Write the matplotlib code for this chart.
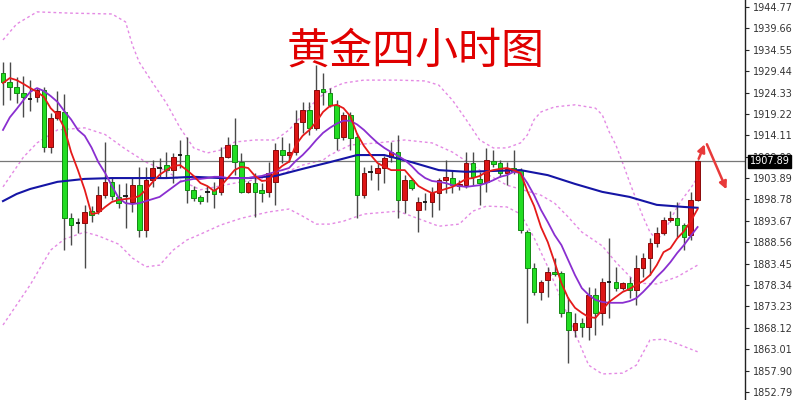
import matplotlib
matplotlib.use("Agg")
from matplotlib import pyplot as plt

plt.rcParams['font.family'] = ['DejaVu Sans']

# 4h gold candles (prices)
opens = [1929.0, 1926.9, 1925.7, 1924.2, 1923.0, 1923.3, 1924.9, 1911.3, 1918.3, 1919.7,
         1894.4, 1893.2, 1893.2, 1896.0, 1896.0, 1899.8, 1902.9, 1899.4, 1899.4, 1898.2,
         1902.2, 1891.6, 1903.4, 1906.3, 1907.0, 1905.8, 1909.2, 1909.4, 1901.0, 1899.4,
         1900.6, 1901.0, 1900.6, 1908.9, 1911.8, 1907.7, 1900.6, 1902.7, 1901.0, 1900.6,
         1902.9, 1910.6, 1909.4, 1910.1, 1917.3, 1920.2, 1915.9, 1925.2, 1924.2, 1921.4,
         1913.7, 1919.0, 1913.7, 1899.8, 1905.3, 1905.1, 1906.3, 1908.9, 1910.1, 1898.7,
         1903.4, 1896.3, 1898.2, 1898.2, 1900.3, 1903.4, 1903.9, 1902.0, 1902.2, 1907.5,
         1903.7, 1902.9, 1908.0, 1907.5, 1905.1, 1906.3, 1905.8, 1891.1, 1882.4, 1876.7,
         1879.5, 1881.4, 1881.2, 1871.9, 1867.6, 1869.3, 1868.3, 1876.0, 1871.7, 1879.1,
         1879.1, 1877.6, 1878.8, 1877.2, 1882.4, 1884.8, 1888.4, 1890.8, 1893.9, 1894.4,
         1892.7, 1890.3, 1898.7]
closes = [1926.9, 1925.7, 1924.2, 1923.3, 1922.8, 1924.9, 1911.3, 1918.3, 1919.9, 1894.4,
          1892.7, 1893.0, 1895.8, 1895.1, 1899.8, 1902.9, 1899.6, 1897.9, 1899.6, 1902.2,
          1891.6, 1903.4, 1906.3, 1906.5, 1905.8, 1908.9, 1909.4, 1901.0, 1899.1, 1898.4,
          1900.5, 1900.1, 1908.9, 1911.8, 1907.7, 1900.6, 1902.7, 1900.6, 1900.3, 1905.1,
          1910.6, 1909.4, 1910.1, 1917.1, 1920.2, 1915.9, 1924.9, 1924.5, 1921.4, 1913.5,
          1919.0, 1913.5, 1899.8, 1905.1, 1905.6, 1906.3, 1908.7, 1910.1, 1898.7, 1903.4,
          1901.5, 1898.2, 1898.4, 1900.3, 1903.4, 1904.2, 1902.2, 1902.5, 1907.5, 1904.2,
          1902.7, 1908.2, 1907.3, 1905.1, 1906.1, 1905.6, 1891.6, 1882.4, 1876.7, 1879.1,
          1881.4, 1881.0, 1871.7, 1867.6, 1869.3, 1868.3, 1876.0, 1871.7, 1879.1, 1879.0,
          1877.6, 1878.8, 1877.2, 1882.4, 1884.8, 1888.4, 1890.8, 1893.9, 1894.4, 1892.7,
          1889.8, 1898.7, 1907.89]
highs = [1931.6, 1931.6, 1928.0, 1928.3, 1927.3, 1925.4, 1925.6, 1919.4, 1924.7, 1924.0,
         1895.6, 1894.4, 1897.5, 1897.2, 1902.0, 1912.5, 1903.9, 1902.5, 1902.7, 1903.9,
         1906.5, 1906.5, 1908.2, 1908.7, 1910.1, 1909.9, 1913.0, 1913.7, 1902.0, 1899.8,
         1902.0, 1902.9, 1911.3, 1913.7, 1918.3, 1909.9, 1903.2, 1905.1, 1902.7, 1907.7,
         1912.3, 1913.7, 1912.3, 1920.2, 1922.1, 1922.1, 1930.9, 1929.0, 1925.4, 1922.5,
         1919.7, 1919.7, 1914.7, 1906.5, 1907.0, 1907.5, 1909.2, 1912.5, 1914.2, 1904.6,
         1903.9, 1899.4, 1900.3, 1901.8, 1903.9, 1908.2, 1905.8, 1903.4, 1910.1, 1910.1,
         1905.3, 1911.1, 1910.6, 1908.2, 1907.7, 1910.6, 1906.3, 1891.6, 1883.6, 1879.5,
         1882.6, 1884.8, 1881.7, 1875.5, 1871.7, 1870.5, 1877.9, 1877.6, 1880.0, 1889.6,
         1882.6, 1879.1, 1880.3, 1885.5, 1886.0, 1889.6, 1892.2, 1894.6, 1896.0, 1898.2,
         1893.2, 1900.5, 1908.2]
lows = [1921.4, 1922.5, 1921.8, 1918.5, 1919.9, 1922.1, 1910.1, 1909.9, 1917.8, 1886.7,
        1887.9, 1890.8, 1882.4, 1893.4, 1895.3, 1899.1, 1898.7, 1896.8, 1891.9, 1895.8,
        1889.8, 1889.8, 1901.8, 1904.2, 1903.9, 1902.7, 1906.3, 1897.9, 1898.4, 1897.7,
        1898.2, 1896.8, 1899.8, 1908.7, 1904.6, 1900.3, 1900.3, 1894.6, 1898.2, 1899.4,
        1897.5, 1907.5, 1907.7, 1909.4, 1914.7, 1914.2, 1915.4, 1921.4, 1920.9, 1910.6,
        1913.0, 1910.6, 1894.4, 1899.1, 1903.4, 1901.0, 1902.7, 1907.7, 1894.4, 1895.6,
        1901.0, 1891.1, 1896.3, 1894.6, 1896.3, 1900.3, 1900.3, 1901.0, 1901.5, 1902.2,
        1897.5, 1900.6, 1906.5, 1904.2, 1902.2, 1904.9, 1890.8, 1869.3, 1876.0, 1874.8,
        1875.5, 1880.5, 1870.7, 1859.7, 1865.9, 1865.9, 1865.2, 1866.4, 1868.8, 1870.5,
        1876.9, 1877.2, 1875.2, 1873.6, 1880.3, 1880.7, 1887.4, 1890.3, 1893.4, 1889.8,
        1886.7, 1889.1, 1898.4]

# fast (red) and middle (purple) moving averages, one value per candle
ma_fast = [1926.6, 1927.8, 1927.3, 1926.4, 1925.4, 1924.5, 1923.3, 1920.6, 1919.0, 1915.9,
           1910.1, 1905.8, 1901.1, 1895.3, 1895.6, 1897.0, 1898.2, 1898.7, 1898.9, 1899.1,
           1899.6, 1901.1, 1903.0, 1904.7, 1905.8, 1906.8, 1907.0, 1905.8, 1904.4, 1902.7,
           1902.0, 1900.8, 1902.0, 1903.9, 1905.8, 1906.6, 1906.3, 1904.4, 1903.2, 1903.4,
           1905.4, 1906.8, 1907.8, 1911.8, 1914.0, 1915.4, 1917.3, 1919.7, 1921.1, 1921.4,
           1920.6, 1918.7, 1914.4, 1911.6, 1909.4, 1907.5, 1906.6, 1905.8, 1905.8, 1905.8,
           1903.9, 1902.0, 1901.1, 1900.3, 1900.8, 1901.3, 1901.8, 1902.7, 1903.7, 1903.9,
           1904.4, 1905.4, 1905.8, 1906.1, 1906.3, 1905.8, 1905.1, 1900.8, 1897.2, 1892.2,
           1888.6, 1883.8, 1878.8, 1875.2, 1872.9, 1871.7, 1870.7, 1870.5, 1872.4, 1874.3,
           1875.5, 1876.7, 1877.4, 1878.4, 1879.3, 1880.7, 1883.1, 1886.2, 1887.1, 1889.5,
           1891.2, 1893.6, 1896.5]
ma_mid = [1915.4, 1918.4, 1920.4, 1922.5, 1924.5, 1925.4, 1924.7, 1923.5, 1922.1, 1919.9,
          1917.9, 1915.4, 1914.0, 1911.2, 1907.7, 1905.1, 1902.0, 1899.1, 1897.9, 1897.7,
          1897.9, 1898.4, 1898.9, 1899.4, 1900.6, 1901.8, 1903.0, 1903.4, 1903.7, 1903.7,
          1903.9, 1904.2, 1904.2, 1903.9, 1903.9, 1903.9, 1903.9, 1904.2, 1904.4, 1904.9,
          1905.4, 1905.8, 1906.3, 1908.0, 1909.4, 1911.1, 1913.0, 1914.7, 1915.9, 1916.9,
          1917.6, 1917.6, 1916.7, 1915.4, 1913.8, 1912.3, 1911.1, 1910.1, 1909.2, 1908.2,
          1906.8, 1905.1, 1903.9, 1903.2, 1903.0, 1902.7, 1902.2, 1902.0, 1901.8, 1902.0,
          1902.2, 1902.7, 1903.4, 1904.2, 1904.6, 1905.4, 1905.1, 1902.7, 1899.8, 1896.3,
          1893.4, 1890.3, 1887.9, 1884.3, 1880.7, 1877.6, 1876.0, 1874.8, 1874.3, 1874.1,
          1874.1, 1874.1, 1874.5, 1875.2, 1876.7, 1878.4, 1880.3, 1881.9, 1883.8, 1886.0,
          1887.9, 1890.1, 1892.2]

# slow (blue) average, sampled at some candles
ma_slow_idx = [0, 2, 4, 8, 12, 16, 20, 24, 28, 32, 36, 40, 44, 48, 52, 56, 60, 64, 68, 72,
               76, 80, 84, 88, 92, 96, 100, 102]
ma_slow_val = [1898.4, 1900.1, 1901.3, 1903.0, 1903.7, 1903.9, 1903.9, 1903.9, 1904.2, 1903.9,
               1903.9, 1904.4, 1906.1, 1907.7, 1909.4, 1909.4, 1907.7, 1905.8, 1905.4, 1905.6,
               1905.8, 1904.6, 1902.5, 1900.6, 1899.4, 1897.5, 1897.0, 1896.8]

# bollinger bands (dotted), sampled
bb_up_idx = [0, 2, 5, 10, 16, 18, 19, 20, 22, 24, 26, 28, 30, 32, 34, 37, 40, 42, 44, 46,
             48, 50, 53, 58, 62, 64, 66, 68, 70, 72, 74, 76, 77, 78, 79, 81, 84, 87, 88, 89,
             90, 91, 92, 93, 94, 95, 96, 97, 98, 99, 100, 101, 102]
bb_up_val = [1936.9, 1940.7, 1943.6, 1943.3, 1943.1, 1941.2, 1935.7, 1931.6, 1926.6, 1921.8,
             1915.9, 1911.1, 1909.9, 1910.6, 1912.5, 1913.0, 1913.0, 1915.4, 1919.0, 1922.5,
             1925.2, 1926.6, 1927.3, 1927.3, 1927.1, 1926.1, 1922.5, 1917.9, 1913.0, 1911.1,
             1911.1, 1912.3, 1914.2, 1917.9, 1919.7, 1920.9, 1921.4, 1920.6, 1919.0, 1915.0,
             1911.8, 1907.5, 1903.0, 1898.7, 1894.6, 1891.0, 1889.1, 1890.8, 1893.9, 1897.0,
             1899.4, 1901.5, 1904.1]
bb_mid_idx = [0, 3, 5, 8, 12, 15, 18, 21, 24, 26, 29, 35, 40, 44, 47, 48, 51, 55, 59, 63,
              66, 70, 74, 79, 81, 83, 85, 88, 90, 93, 96, 99, 102]
bb_mid_val = [1901.8, 1908.9, 1912.3, 1915.4, 1915.9, 1914.3, 1910.8, 1907.7, 1905.6, 1903.4,
              1901.1, 1903.0, 1904.2, 1907.0, 1908.2, 1909.4, 1911.8, 1912.3, 1913.0, 1912.3,
              1910.1, 1905.8, 1902.2, 1899.8, 1897.9, 1894.6, 1891.0, 1887.7, 1883.8, 1878.8,
              1878.6, 1880.3, 1883.1]
bb_low_idx = [0, 2, 4, 7, 9, 12, 14, 17, 19, 21, 23, 25, 27, 29, 32, 35, 39, 42, 44, 46,
              48, 50, 53, 58, 61, 64, 67, 69, 71, 74, 76, 78, 80, 82, 84, 86, 88, 91, 93, 95,
              97, 99, 102]
bb_low_val = [1868.8, 1873.6, 1878.4, 1886.7, 1889.3, 1891.0, 1890.1, 1888.1, 1884.8, 1882.7,
              1883.1, 1886.7, 1889.1, 1890.5, 1892.7, 1894.3, 1895.8, 1896.5, 1894.8, 1892.9,
              1892.9, 1893.6, 1895.3, 1896.0, 1894.2, 1892.4, 1892.9, 1896.0, 1897.2, 1897.0,
              1895.3, 1889.6, 1882.7, 1874.8, 1866.9, 1859.2, 1857.1, 1857.3, 1859.2, 1865.2,
              1865.4, 1864.3, 1862.4]

# right axis ticks
tick_top = 1944.77
tick_step = 5.11
n_ticks = 19
last_price = 1907.89

fig = plt.figure(figsize=(8, 4), dpi=100)
ax = fig.add_axes([0, 0, 745 / 800, 1])

idx = list(range(len(opens)))

# bands
band_kw = dict(color='#e48ae4', lw=1.0, ls=(0, (2, 2)), zorder=1)
ax.plot(bb_up_idx, bb_up_val, **band_kw)
ax.plot(bb_mid_idx, bb_mid_val, **band_kw)
ax.plot(bb_low_idx, bb_low_val, **band_kw)

# current price line
ax.axhline(last_price, color='#777777', lw=0.9, zorder=1.5)

# candles
for i in idx:
    o, c, h, l = opens[i], closes[i], highs[i], lows[i]
    ax.vlines(i, l, h, color='#4a4a4a', lw=1.0, zorder=2)
    if abs(c - o) < 0.35:
        ax.hlines((o + c) / 2, i - 0.33, i + 0.33, color='#111111', lw=1.3, zorder=2.5)
        continue
    if c > o:
        face, edge = '#dd1515', '#8a0a0a'
    else:
        face, edge = '#22dd22', '#138a13'
    ax.bar(i, abs(c - o), bottom=min(o, c), width=0.68, color=face,
           edgecolor=edge, linewidth=0.7, zorder=2.5)

# moving averages
ax.plot(ma_slow_idx, ma_slow_val, color='#1515a5', lw=1.5, zorder=3)
ax.plot(idx, ma_mid, color='#8a2fd0', lw=1.3, zorder=3.1)
ax.plot(idx, ma_fast, color='#e51a1a', lw=1.3, zorder=3.2)

# forecast arrows from the last candle
last_i = idx[-1]
peak = (last_i + 1.2, last_price + 4.7)
ax.annotate('', xy=peak, xytext=(last_i, last_price),
            arrowprops=dict(arrowstyle='-|>', color='#e83a3a', lw=1.8, mutation_scale=11))
ax.annotate('', xy=(last_i + 4.4, last_price - 7.3), xytext=peak,
            arrowprops=dict(arrowstyle='-|>', color='#e83a3a', lw=1.8, mutation_scale=11))

ax.set_xlim(-0.44, 108.96)
ax.set_ylim(1850.88, 1946.44)

for s in ['left', 'top', 'bottom']:
    ax.spines[s].set_visible(False)
ax.spines['right'].set_color('#222222')
ax.spines['right'].set_linewidth(1.0)
ax.set_xticks([])
ticks = [tick_top - k * tick_step for k in range(n_ticks)]
ax.yaxis.tick_right()
ax.set_yticks(ticks)
ax.set_yticklabels(['%.2f' % t for t in ticks])
ax.tick_params(axis='y', direction='out', length=3, width=0.8, pad=2.5,
               labelsize=7, labelcolor='#333333', color='#222222')

# current price badge (covers the 1909.00 label as in the terminal)
ax.text(1.006, last_price, '%.2f' % last_price, transform=ax.get_yaxis_transform(),
        ha='left', va='center', fontsize=7, color='white', zorder=10, clip_on=False,
        bbox=dict(boxstyle='square,pad=0.15', fc='black', ec='black'))

fig.text(416 / 800, 1 - 52 / 400, '黄金四小时图', ha='center', va='center',
         fontsize=31, color='#e00000', fontweight='medium',
         family=['Noto Sans CJK SC', 'DejaVu Sans'])

fig.savefig('out.png', dpi=100)
